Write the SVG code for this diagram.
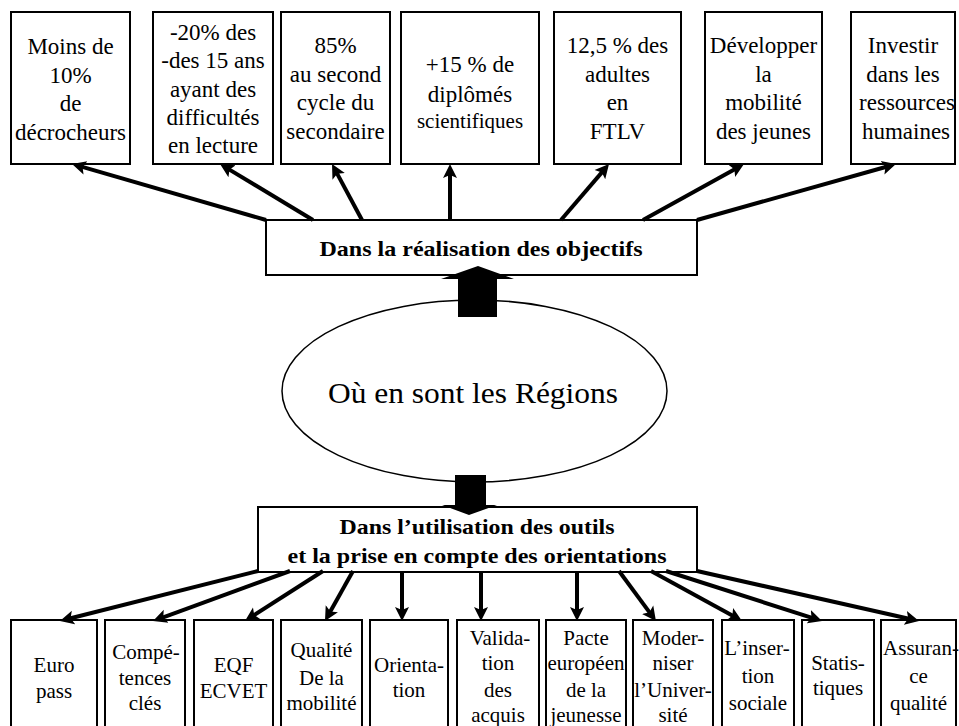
<svg xmlns="http://www.w3.org/2000/svg" width="959" height="726" viewBox="0 0 959 726">
<style>
.box{fill:#fff;stroke:#000;stroke-width:2}
.t{font-family:"Liberation Serif","Times New Roman",serif;fill:#000;text-anchor:middle}
.top{font-size:23px}
.bot{font-size:21px}
.bold{font-weight:bold;font-size:22px}
.con{stroke:#000;stroke-width:4;fill:none;marker-end:url(#ah)}
.blk{fill:#000;stroke:none}
</style>
<defs>
<marker id="ah" markerUnits="userSpaceOnUse" markerWidth="16" markerHeight="16" viewBox="0 -8 16 16" refX="6" refY="0" orient="auto">
<path d="M0,-7 L14,0 L0,7 L3,0 z" fill="#000"/>
</marker>
</defs>
<rect width="959" height="726" fill="#fff"/>

<g id="t1"><rect class="box" x="11" y="12" width="119" height="152"/>
<text class="t top" x="70.5" y="54">Moins de</text>
<text class="t top" x="70.5" y="83">10%</text>
<text class="t top" x="70.5" y="111">de</text>
<text class="t top" x="70.5" y="140">décrocheurs</text></g>
<g id="t2"><rect class="box" x="153" y="12" width="120" height="152"/>
<text class="t top" x="213" y="40">-20% des</text>
<text class="t top" x="213" y="68">-des 15 ans</text>
<text class="t top" x="213" y="97">ayant des</text>
<text class="t top" x="213" y="125">difficultés</text>
<text class="t top" x="213" y="153">en lecture</text></g>
<g id="t3"><rect class="box" x="281" y="12" width="109" height="152"/>
<text class="t top" x="335.5" y="53">85%</text>
<text class="t top" x="335.5" y="82">au second</text>
<text class="t top" x="335.5" y="110">cycle du</text>
<text class="t top" x="335.5" y="139">secondaire</text></g>
<g id="t4"><rect class="box" x="401" y="12" width="138" height="152"/>
<text class="t top" x="470" y="72">+15 % de</text>
<text class="t top" x="470" y="102">diplômés</text>
<text class="t" style="font-size:21px" x="470" y="128">scientifiques</text></g>
<g id="t5"><rect class="box" x="554" y="12" width="127" height="152"/>
<text class="t top" x="617.5" y="53">12,5 % des</text>
<text class="t top" x="617.5" y="82">adultes</text>
<text class="t top" x="617.5" y="110">en</text>
<text class="t top" x="617.5" y="139">FTLV</text></g>
<g id="t6"><rect class="box" x="705" y="12" width="117" height="152"/>
<text class="t top" x="763.5" y="53">Développer</text>
<text class="t top" x="763.5" y="82">la</text>
<text class="t top" x="763.5" y="110">mobilité</text>
<text class="t top" x="763.5" y="139">des jeunes</text></g>
<g id="t7"><rect class="box" x="851" y="12" width="104" height="152"/>
<text class="t top" x="903" y="53">Investir</text>
<text class="t top" x="903" y="82">dans les</text>
<text class="t top" x="907" y="110">ressources</text>
<text class="t top" x="906" y="139">humaines</text></g>

<g id="objectifs"><rect class="box" x="266" y="220" width="431" height="55"/>
<text class="t bold" x="481" y="256" textLength="323" lengthAdjust="spacingAndGlyphs">Dans la réalisation des objectifs</text></g>

<g id="regions"><ellipse cx="474.5" cy="391" rx="192.5" ry="91" fill="#fff" stroke="#000" stroke-width="1.5"/>
<text class="t" style="font-size:30px" x="473" y="403" textLength="290" lengthAdjust="spacingAndGlyphs">Où en sont les Régions</text></g>

<g id="outils"><rect class="box" x="258" y="507" width="439" height="65"/>
<text class="t bold" x="477" y="534" textLength="275" lengthAdjust="spacingAndGlyphs">Dans l’utilisation des outils</text>
<text class="t bold" x="477" y="563" textLength="379" lengthAdjust="spacingAndGlyphs">et la prise en compte des orientations</text></g>

<g id="b1"><rect class="box" x="11" y="620" width="86" height="120"/>
<text class="t bot" x="54" y="672">Euro</text>
<text class="t bot" x="54" y="698">pass</text></g>
<g id="b2"><rect class="box" x="105" y="620" width="80" height="120"/>
<text class="t bot" x="146" y="659">Compé-</text>
<text class="t bot" x="145" y="685">tences</text>
<text class="t bot" x="145" y="710">clés</text></g>
<g id="b3"><rect class="box" x="194" y="620" width="79" height="120"/>
<text class="t bot" x="233.5" y="672">EQF</text>
<text class="t bot" x="233.5" y="698">ECVET</text></g>
<g id="b4"><rect class="box" x="281" y="620" width="81" height="120"/>
<text class="t bot" x="321.5" y="657">Qualité</text>
<text class="t bot" x="321.5" y="685">De la</text>
<text class="t bot" x="321.5" y="710">mobilité</text></g>
<g id="b5"><rect class="box" x="370" y="620" width="78" height="120"/>
<text class="t bot" x="409" y="672">Orienta-</text>
<text class="t bot" x="409" y="697">tion</text></g>
<g id="b6"><rect class="box" x="457" y="620" width="82" height="120"/>
<text class="t bot" x="500" y="645">Valida-</text>
<text class="t bot" x="498" y="670">tion</text>
<text class="t bot" x="498" y="697">des</text>
<text class="t bot" x="498" y="722">acquis</text></g>
<g id="b7"><rect class="box" x="546" y="620" width="80" height="120"/>
<text class="t bot" x="586" y="645">Pacte</text>
<text class="t bot" x="586" y="670">européen</text>
<text class="t bot" x="586" y="697">de la</text>
<text class="t bot" x="586" y="722">jeunesse</text></g>
<g id="b8"><rect class="box" x="633" y="620" width="80" height="120"/>
<text class="t bot" x="673" y="645">Moder-</text>
<text class="t bot" x="673" y="670">niser</text>
<text class="t bot" x="673" y="697">l’Univer-</text>
<text class="t bot" x="673" y="722">sité</text></g>
<g id="b9"><rect class="box" x="722" y="620" width="72" height="120"/>
<text class="t bot" x="757" y="655">L’inser-</text>
<text class="t bot" x="758" y="683">tion</text>
<text class="t bot" x="758" y="710">sociale</text></g>
<g id="b10"><rect class="box" x="802" y="620" width="72" height="120"/>
<text class="t bot" x="838" y="670">Statis-</text>
<text class="t bot" x="838" y="695">tiques</text></g>
<g id="b11"><rect class="box" x="881" y="620" width="75" height="120"/>
<text class="t bot" x="921" y="655">Assuran-</text>
<text class="t bot" x="918.5" y="683">ce</text>
<text class="t bot" x="918.5" y="710">qualité</text></g>

<g id="connectors">
<path class="con" d="M266,220 L79.7,166.2"/>
<path class="con" d="M313,220 L226.9,168.1"/>
<path class="con" d="M362,220 L335.8,171.1"/>
<path class="con" d="M450,220 L450,172"/>
<path class="con" d="M561,220 L603.8,170.1"/>
<path class="con" d="M643,220 L737,167.9"/>
<path class="con" d="M697,220 L888.3,166.2"/>
<polygon class="blk" points="458,317 458,279 441,279 478,266 514,279 497,279 497,317"/>
<polygon class="blk" points="455,475 486,475 486,505 497,505 469,515 442,505 455,505"/>
<path class="con" d="M258,571 L67.7,619"/>
<path class="con" d="M290,571 L160.5,618.3"/>
<path class="con" d="M323,571 L251.7,616.7"/>
<path class="con" d="M353,571 L328.9,614"/>
<path class="con" d="M402,571 L402,613"/>
<path class="con" d="M481,571 L481,613"/>
<path class="con" d="M577,571 L577,613"/>
<path class="con" d="M619,571 L651.2,614.6"/>
<path class="con" d="M651,571 L735,617.1"/>
<path class="con" d="M666,571 L814.4,618.6"/>
<path class="con" d="M697,571 L911.2,619.2"/>
</g>
</svg>
